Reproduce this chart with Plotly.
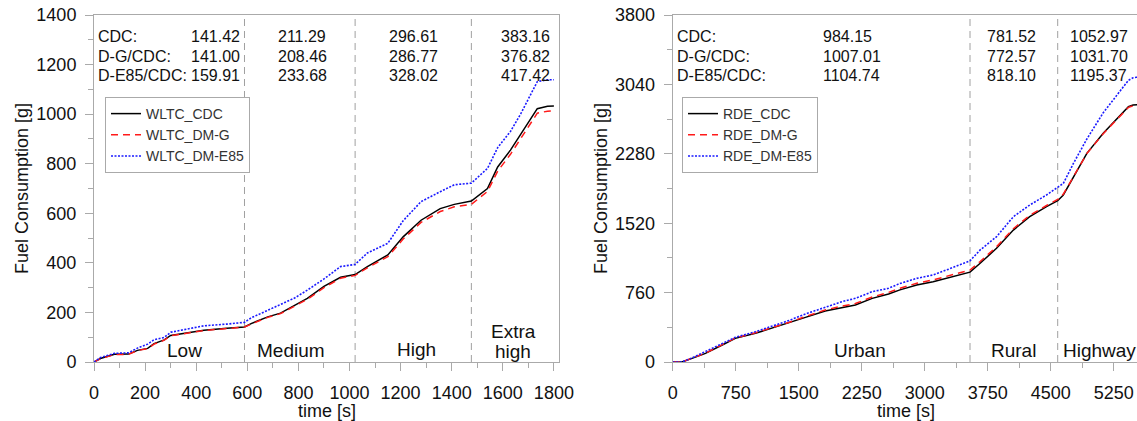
import plotly.graph_objects as go

# ---------------- WLTC data ----------------
wltc_t = [0, 25, 80, 135, 170, 210, 235, 275, 300, 365, 430, 520, 589, 615, 680, 730, 785,
          835, 900, 965, 1022, 1070, 1150, 1210, 1280, 1355, 1410, 1477, 1540, 1580, 1630,
          1670, 1735, 1775, 1800]
wltc_cdc = [0, 14, 31, 32, 47, 55, 74, 89, 107, 116, 128, 136, 141.4, 155, 182, 197, 228,
            257, 305, 342, 352.7, 385, 432, 505, 572, 619, 636, 649.3, 700, 787, 855,
            920, 1022, 1032, 1032.5]
wltc_dmg = [0, 13, 30, 31, 46, 54, 72, 88, 106, 115, 127, 135, 141.0, 153, 180, 195, 225,
            253, 300, 338, 349.5, 380, 425, 496, 563, 607, 626, 636.2, 688, 770, 838,
            900, 1004, 1012, 1013]
wltc_e85 = [0, 18, 35, 37, 56, 72, 90, 99, 120, 133, 146, 153, 159.9, 178, 208, 230, 258,
            290, 335, 385, 393.6, 440, 479, 570, 647, 687, 715, 721.6, 781, 865, 930,
            1001, 1131, 1139, 1139]
wltc_bounds = [589, 1022, 1477]
wltc_phases = ["Low", "Medium", "High", "Extra", "high"]
wltc_rows = ["CDC:", "D-G/CDC:", "D-E85/CDC:"]
wltc_table = [["141.42", "211.29", "296.61", "383.16"],
              ["141.00", "208.46", "286.77", "376.82"],
              ["159.91", "233.68", "328.02", "417.42"]]

# ---------------- RDE data ----------------
rde_t = [0, 110, 230, 390, 590, 745, 985, 1180, 1380, 1580, 1815, 2015, 2175, 2375, 2570,
         2705, 2905, 3100, 3300, 3539, 3660, 3855, 4055, 4250, 4450, 4583, 4650, 4770, 4930,
         5125, 5325, 5405, 5425, 5480, 5520, 5600]
rde_cdc = [0, 0, 40, 95, 186, 259, 314, 369, 424, 489, 558, 599, 624, 697, 745,
           790, 843, 879, 927, 984, 1081, 1245, 1445, 1591, 1701, 1766, 1829, 2029, 2285,
           2504, 2705, 2780, 2796, 2815, 2819, 2819]
rde_dmg = [0, 0, 42, 98, 190, 263, 320, 376, 432, 498, 570, 612, 640, 712, 762,
           808, 862, 899, 950, 1007, 1100, 1262, 1460, 1606, 1714, 1780, 1838, 2030, 2283,
           2500, 2700, 2772, 2788, 2806, 2811, 2811]
rde_e85 = [0, 0, 45, 113, 204, 270, 332, 394, 453, 526, 599, 661, 697, 770, 807,
           860, 916, 953, 1022, 1108, 1227, 1372, 1591, 1719, 1829, 1910, 1956, 2175, 2442,
           2730, 2975, 3069, 3085, 3112, 3118, 3118]
rde_bounds = [3539, 4583]
rde_phases = ["Urban", "Rural", "Highway"]
rde_rows = ["CDC:", "D-G/CDC:", "D-E85/CDC:"]
rde_table = [["984.15", "781.52", "1052.97"],
             ["1007.01", "772.57", "1031.70"],
             ["1104.74", "818.10", "1195.37"]]

W, H = 1137, 421
FONT = "Arial, 'Liberation Sans', sans-serif"
AXC = "#aaaaaa"


def px(x):
    return x / W


def py(y):
    return 1 - y / H


fig = go.Figure()

styles = [dict(color="black", width=1.5, dash="solid"),
          dict(color="#ff1a1a", width=1.5, dash="7px,5px"),
          dict(color="#1a1aff", width=1.6, dash="2px,1.5px")]

for name, vals, st in zip(["WLTC_CDC", "WLTC_DM-G", "WLTC_DM-E85"],
                          [wltc_cdc, wltc_dmg, wltc_e85], styles):
    fig.add_trace(go.Scatter(x=wltc_t, y=vals, mode="lines", name=name, line=st,
                             xaxis="x", yaxis="y", legend="legend"))
for name, vals, st in zip(["RDE_CDC", "RDE_DM-G", "RDE_DM-E85"],
                          [rde_cdc, rde_dmg, rde_e85], styles):
    fig.add_trace(go.Scatter(x=rde_t, y=vals, mode="lines", name=name, line=st,
                             xaxis="x2", yaxis="y2", legend="legend2"))

ydom = [py(362), py(15)]
common_ax = dict(showline=True, linecolor=AXC, linewidth=1, ticks="outside", ticklen=8,
                 tickcolor=AXC, tickwidth=1, showgrid=False, zeroline=False, automargin=False,
                 tickfont=dict(family=FONT, size=18, color="#111111"))

fig.update_layout(
    template="none",
    width=W, height=H, margin=dict(l=0, r=0, t=0, b=0, pad=0),
    paper_bgcolor="white", plot_bgcolor="white",
    font=dict(family=FONT, size=16, color="#111111"),
    xaxis=dict(domain=[px(94), px(559)], range=[0, 1820], tickvals=list(range(0, 1801, 200)),
               minor=dict(tickvals=list(range(100, 1801, 200)), ticks="outside", ticklen=5,
                          tickcolor=AXC),
               mirror=True, anchor="y", ticklabelstandoff=6, **common_ax),
    yaxis=dict(domain=ydom, range=[0, 1400], tickvals=list(range(0, 1401, 200)),
               minor=dict(tickvals=list(range(100, 1401, 200)), ticks="outside", ticklen=5,
                          tickcolor=AXC),
               mirror=True, anchor="x", ticklabelstandoff=5, **common_ax),
    xaxis2=dict(domain=[px(672.7), 1.0], range=[0, 5527],
                tickvals=[0, 750, 1500, 2250, 3000, 3750, 4500, 5250],
                minor=dict(tickvals=[375, 1125, 1875, 2625, 3375, 4125, 4875], ticks="outside",
                           ticklen=5, tickcolor=AXC),
                mirror=True, anchor="y2", ticklabelstandoff=6, **common_ax),
    yaxis2=dict(domain=ydom, range=[0, 3800], tickvals=[0, 760, 1520, 2280, 3040, 3800],
                minor=dict(tickvals=[380, 1140, 1900, 2660, 3420], ticks="outside", ticklen=5,
                           tickcolor=AXC),
                mirror=False, anchor="x2", ticklabelstandoff=5, **common_ax),
    legend=dict(x=px(105), y=py(97), xanchor="left", yanchor="top", bgcolor="white",
                bordercolor=AXC, borderwidth=1, font=dict(family=FONT, size=14, color="#333333"),
                tracegroupgap=0),
    legend2=dict(x=px(682), y=py(97), xanchor="left", yanchor="top", bgcolor="white",
                 bordercolor=AXC, borderwidth=1, font=dict(family=FONT, size=14, color="#333333"),
                 tracegroupgap=0),
    showlegend=True,
)

shapes = []
for b in wltc_bounds:
    shapes.append(dict(type="line", xref="x", yref="y domain", x0=b, x1=b, y0=0, y1=1,
                       line=dict(color="#a0a0a0", width=1, dash="7px,5px"), layer="below"))
for b in rde_bounds:
    shapes.append(dict(type="line", xref="x2", yref="y2 domain", x0=b, x1=b, y0=0, y1=1,
                       line=dict(color="#a0a0a0", width=1, dash="7px,5px"), layer="below"))
fig.update_layout(shapes=shapes)

ann = []


def txt(x, y, s, size=16, xanchor="left", angle=0):
    ann.append(dict(x=px(x), y=py(y), xref="paper", yref="paper", text=s, showarrow=False,
                    xanchor=xanchor, yanchor="middle", textangle=angle,
                    font=dict(family=FONT, size=size, color="#111111")))


row_y = [37, 56, 75]
# WLTC table
for r, lab in enumerate(wltc_rows):
    txt(96, row_y[r], lab)
    txt(241.5, row_y[r], wltc_table[r][0], xanchor="right")
    txt(275.5, row_y[r], wltc_table[r][1])
    txt(387, row_y[r], wltc_table[r][2])
    txt(499, row_y[r], wltc_table[r][3])
# RDE table
for r, lab in enumerate(rde_rows):
    txt(675, row_y[r], lab)
    txt(820.5, row_y[r], rde_table[r][0])
    txt(985, row_y[r], rde_table[r][1])
    txt(1068, row_y[r], rde_table[r][2])

# phase labels
for s, xc, yc in zip(wltc_phases, [184, 291, 416, 513, 513], [350, 350, 349, 331, 351]):
    txt(xc, yc, s, size=19, xanchor="center")
for s, xc in zip(rde_phases, [860, 1013, 1099]):
    txt(xc, 350, s, size=19, xanchor="center")

# axis titles
txt(22, 189, "Fuel Consumption [g]", size=18, xanchor="center", angle=-90)
txt(601, 189, "Fuel Consumption [g]", size=18, xanchor="center", angle=-90)
txt(327, 411, "time [s]", size=18, xanchor="center")
txt(906, 411, "time [s]", size=18, xanchor="center")

fig.update_layout(annotations=ann)
fig.write_html("out.html")
